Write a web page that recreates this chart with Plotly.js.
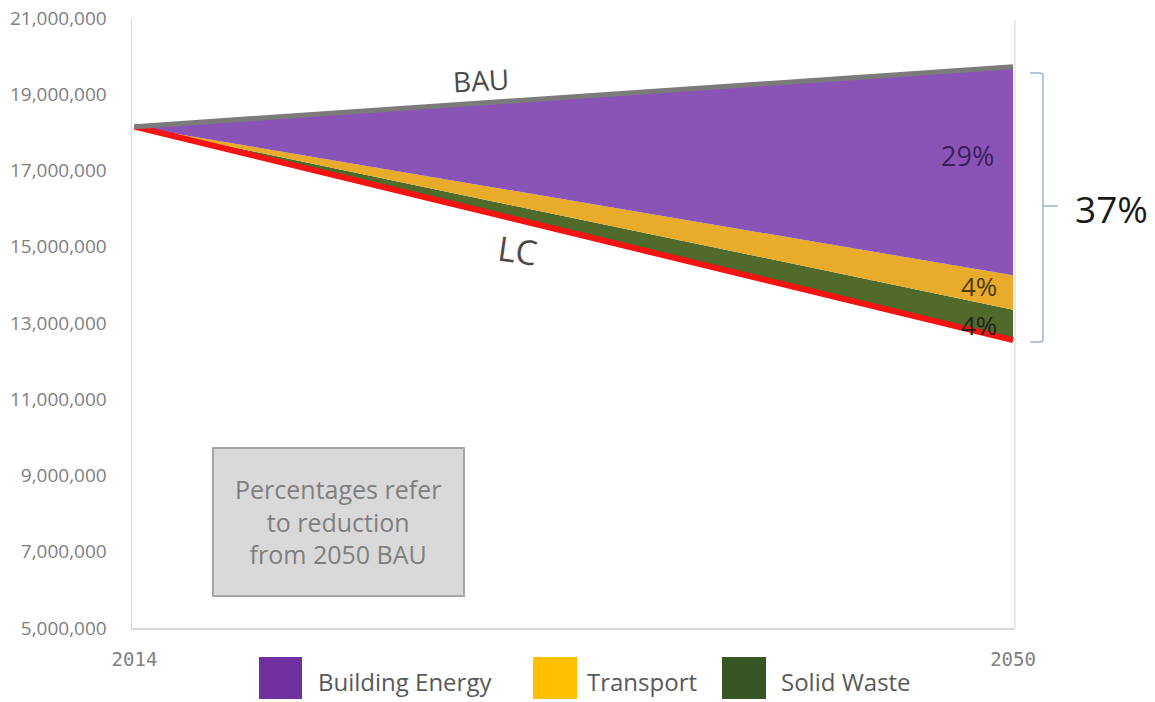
<!DOCTYPE html>
<html>
<head>
<meta charset="utf-8">
<script src="https://cdn.plot.ly/plotly-3.0.1.min.js"></script>
<style>html,body{margin:0;padding:0;background:#fff;}#chart{width:1155px;height:702px;}</style>
</head>
<body>
<div id="chart"></div>
<script>
// ---- data ----
var years = [2014, 2050];
var lcEmissions = [18150000, 12550000];      // Low Carbon pathway
var solidWasteReduction = [0, 800000];
var transportReduction = [0, 900000];
var buildingEnergyReduction = [0, 5470000];
var yTickVals = [5000000, 7000000, 9000000, 11000000, 13000000, 15000000, 17000000, 19000000, 21000000];
var xTickVals = [2014, 2050];
var seriesNames = ['Building Energy', 'Transport', 'Solid Waste'];
var reductionLabels = ['29%', '4%', '4%'];
var totalLabel = '37%';
var noteLines = ['Percentages refer', 'to reduction', 'from 2050 BAU'];

// cumulative stacks
function addArr(a, b) { return a.map(function (v, i) { return v + b[i]; }); }
var swTop = addArr(lcEmissions, solidWasteReduction);
var trTop = addArr(swTop, transportReduction);
var bau = addArr(trTop, buildingEnergyReduction);

// ---- layout geometry (pixels) ----
var W = 1155, H = 702;
var M = { l: 132, r: 140, t: 18, b: 74 };
var PW = W - M.l - M.r, PH = H - M.t - M.b;
function px(x) { return (x - M.l) / PW; }
function py(y) { return (H - M.b - y) / PH; }

var fillPurple = '#8A53B6', fillYellow = '#E8AC2A', fillGreen = '#4F6A2B';
var legPurple = '#7030A0', legYellow = '#FFC000', legGreen = '#375623';
var font = 'Open Sans, Noto Sans, sans-serif';

var traces = [
  { x: years, y: lcEmissions, mode: 'lines', line: { width: 0, color: 'rgba(0,0,0,0)' }, hoverinfo: 'skip', showlegend: false },
  { x: years, y: swTop, mode: 'lines', fill: 'tonexty', fillcolor: fillGreen, line: { width: 0, color: fillGreen }, name: seriesNames[2], hoverinfo: 'skip', showlegend: false },
  { x: years, y: trTop, mode: 'lines', fill: 'tonexty', fillcolor: fillYellow, line: { width: 0, color: fillYellow }, name: seriesNames[1], hoverinfo: 'skip', showlegend: false },
  { x: years, y: bau, mode: 'lines', fill: 'tonexty', fillcolor: fillPurple, line: { width: 0, color: fillPurple }, name: seriesNames[0], hoverinfo: 'skip', showlegend: false },
  { x: years, y: lcEmissions, mode: 'lines', line: { width: 6, color: '#F41414' }, name: 'LC', hoverinfo: 'skip', showlegend: false },
  { x: years, y: bau, mode: 'lines', line: { width: 5, color: '#7B7B7B' }, name: 'BAU', hoverinfo: 'skip', showlegend: false }
];

var shapes = [
  // right frame line
  { type: 'line', xref: 'paper', yref: 'paper', x0: 1, x1: 1, y0: 0, y1: py(20), line: { color: '#E3E3E3', width: 1.5 } },
  // bracket
  { type: 'path', xref: 'paper', yref: 'paper',
    path: 'M ' + px(1030) + ' ' + py(73) + ' L ' + px(1040) + ' ' + py(73) + ' Q ' + px(1043) + ' ' + py(73) + ' ' + px(1043) + ' ' + py(76) +
          ' L ' + px(1043) + ' ' + py(339) + ' Q ' + px(1043) + ' ' + py(342) + ' ' + px(1040) + ' ' + py(342) + ' L ' + px(1030) + ' ' + py(342),
    line: { color: '#9DB3CF', width: 1.5 } },
  { type: 'line', xref: 'paper', yref: 'paper', x0: px(1043), x1: px(1058), y0: py(206), y1: py(206), line: { color: '#9DB3CF', width: 1.5 } },
  // note box
  { type: 'rect', xref: 'paper', yref: 'paper', x0: px(213), x1: px(464), y0: py(448), y1: py(596), fillcolor: '#D9D9D9', line: { color: '#A6A6A6', width: 2 } },
  // legend squares
  { type: 'rect', xref: 'paper', yref: 'paper', x0: px(259), x1: px(302), y0: py(657), y1: py(699), fillcolor: legPurple, line: { width: 0 } },
  { type: 'rect', xref: 'paper', yref: 'paper', x0: px(533), x1: px(577), y0: py(657), y1: py(699), fillcolor: legYellow, line: { width: 0 } },
  { type: 'rect', xref: 'paper', yref: 'paper', x0: px(722), x1: px(766), y0: py(657), y1: py(699), fillcolor: legGreen, line: { width: 0 } }
];

function ann(text, x, y, size, color, opts) {
  var a = { text: text, xref: 'paper', yref: 'paper', x: px(x), y: py(y), showarrow: false,
            font: { family: font, size: size, color: color }, xanchor: 'center', yanchor: 'middle' };
  if (opts) for (var k in opts) a[k] = opts[k];
  return a;
}

var annotations = [
  ann('BAU', 481, 80, 28, '#4A4A4A', { textangle: -3 }),
  ann('LC', 517, 250, 34, '#4A4A4A', { textangle: 8 }),
  ann(reductionLabels[0], 967, 155, 27, '#3A1F5C'),
  ann(reductionLabels[1], 979, 286, 26, '#4A3A12'),
  ann(reductionLabels[2], 979, 325, 26, '#22251A'),
  ann(totalLabel, 1111, 208, 37, '#1A1A1A'),
  ann(noteLines.join('<br>'), 338, 521, 25, '#7F7F7F'),
  ann(seriesNames[0], 316, 681, 24, '#595959', { xanchor: 'left' }),
  ann(seriesNames[1], 585, 681, 24, '#595959', { xanchor: 'left' }),
  ann(seriesNames[2], 779, 681, 24, '#595959', { xanchor: 'left' })
];

var layout = {
  width: W, height: H,
  margin: M,
  paper_bgcolor: '#FFFFFF', plot_bgcolor: '#FFFFFF',
  showlegend: false,
  xaxis: {
    range: [2013.9, 2050.08], tickvals: xTickVals, ticktext: xTickVals.map(String),
    showgrid: false, zeroline: false, showline: true, linecolor: '#D9D9D9', linewidth: 1.5,
    ticks: '', ticklabelstandoff: 14,
    tickfont: { family: 'DejaVu Sans Mono, monospace', size: 19, color: '#808080' }, fixedrange: true
  },
  yaxis: {
    range: [5000000, 21000000], tickvals: yTickVals, tickformat: ',',
    showgrid: false, zeroline: false, showline: true, linecolor: '#D9D9D9', linewidth: 1.5,
    ticks: '', ticklabelstandoff: 20,
    tickfont: { family: font, size: 19, color: '#808080' }, fixedrange: true
  },
  shapes: shapes,
  annotations: annotations
};

Plotly.newPlot('chart', traces, layout, { displayModeBar: false, staticPlot: true });
</script>
</body>
</html>
